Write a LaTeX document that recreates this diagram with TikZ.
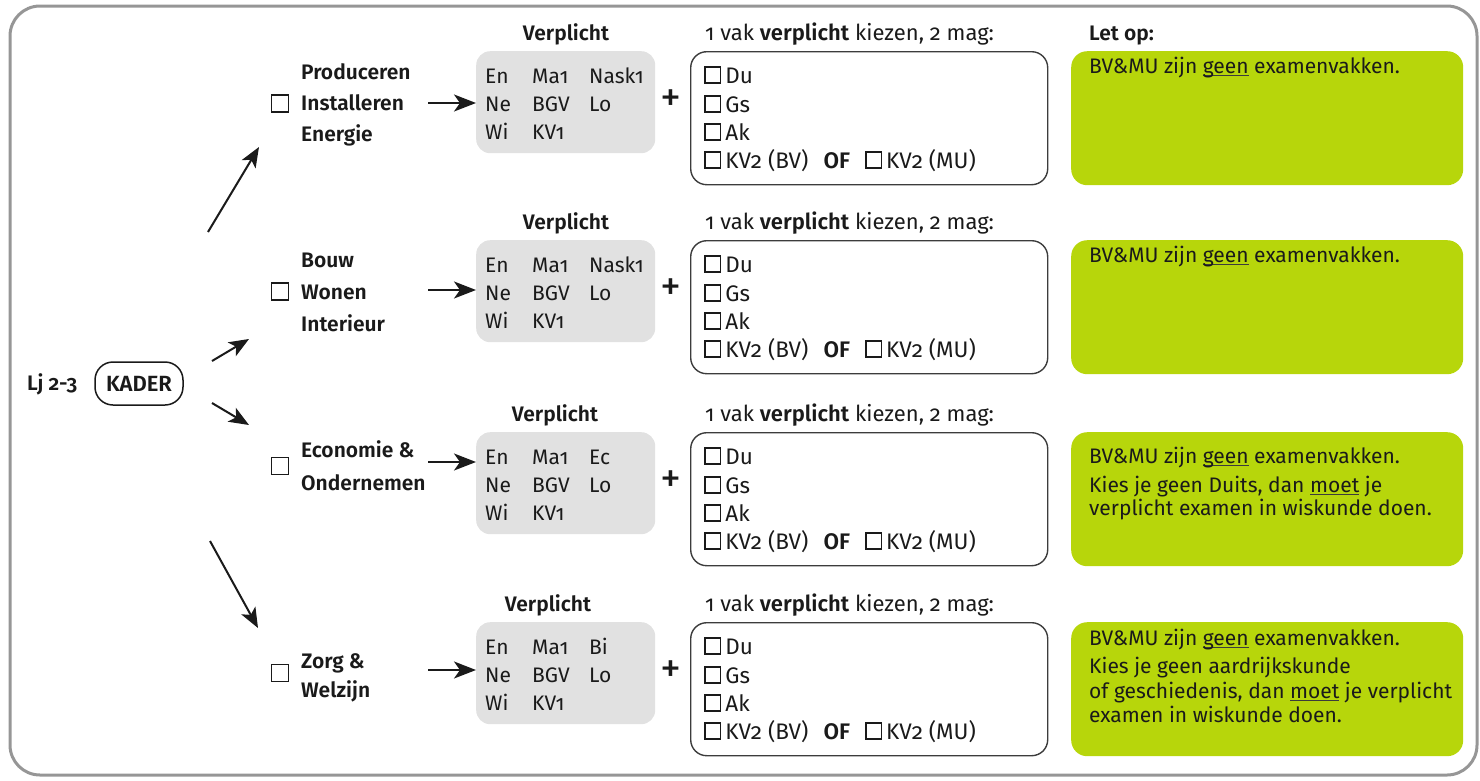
\documentclass[tikz,border=0pt]{standalone}
\usepackage{fontspec}
\setmainfont{Fira Sans}[Numbers=OldStyle,BoldFont={Fira Sans SemiBold}]
\usetikzlibrary{arrows.meta}
\definecolor{ink}{RGB}{26,26,26}
\definecolor{lime}{RGB}{183,214,11}
\definecolor{boxgray}{RGB}{225,225,225}
\definecolor{framegray}{RGB}{150,150,150}
\definecolor{linegray}{RGB}{60,60,60}
\newcommand\cbx{\raisebox{1pt}{\fboxsep=0pt\fboxrule=1.6pt\fbox{\rule{0pt}{14pt}\rule{14pt}{0pt}}}}
\newcommand\myul[1]{{\setbox0\hbox{#1}\rlap{\color{linegray}\rule[-2.5pt]{\wd0}{0.9pt}}\box0}}
\tikzset{
  txt/.style={inner sep=0pt, anchor=base west, text=ink, font=\fontsize{21}{25}\selectfont},
  wtxt/.style={txt, font=\fontsize{22.5}{26}\selectfont},
  htxt/.style={txt, font=\fontsize{22}{26}\selectfont},
  btxt/.style={txt, font=\fontsize{21}{25}\selectfont\bfseries},
  graybox/.style={fill=boxgray, rounded corners=14pt, anchor=north west, minimum width=179pt, minimum height=102pt, inner sep=0pt},
  whitebox/.style={draw=linegray, line width=1.4pt, rounded corners=16pt, anchor=north west, minimum width=357pt, minimum height=133pt, inner sep=0pt},
  greenbox/.style={fill=lime, rounded corners=16pt, anchor=north west, minimum width=392pt, minimum height=134pt, inner sep=0pt},
  tick/.style={draw=ink, line width=1.7pt, minimum size=17pt, inner sep=0pt},
  arr/.style={draw=ink, line width=2pt, -{Stealth[length=22pt,width=17pt,inset=6pt]}},
  sarr/.style={draw=ink, line width=2pt, -{Stealth[length=20pt,width=16pt,inset=5pt]}},
}
\begin{document}
\begin{tikzpicture}[x=1pt,y=-1pt]
\useasboundingbox (0,0) rectangle (1480,780);
\draw[framegray, line width=3pt, rounded corners=30pt] (10,6) rectangle (1477,775);

% left
\node[btxt] (lj) at (27,390) {Lj 2-3};
\node[draw=ink, line width=1.5pt, rounded corners=18pt, minimum width=88pt, minimum height=43pt, inner sep=0pt, font=\fontsize{22}{25}\selectfont\bfseries, text=ink] (k) at (139,383.5) {KADER};
\coordinate (d1a) at (208,232); \coordinate (d1b) at (259,147);
\coordinate (d2a) at (212,361); \coordinate (d2b) at (249,339);
\coordinate (d3a) at (212,403); \coordinate (d3b) at (249,425);
\coordinate (d4a) at (210,541); \coordinate (d4b) at (258,628);
\draw[sarr] (d1a) -- (d1b);
\draw[sarr] (d2a) -- (d2b);
\draw[sarr] (d3a) -- (d3b);
\draw[sarr] (d4a) -- (d4b);

% common per row
\foreach \i/\T/\V in {1/51/566, 2/240/566, 3/432/555, 4/622/548}{
  \node[graybox] (g\i) at (476,\T) {};
  \node[whitebox] (w\i) at (690,\T) {};
  \node[greenbox] (n\i) at (1071,\T) {};
  \node[btxt, anchor=base] (v\i) at (\V,\T-11) {Verplicht};
  \node[htxt] (h\i) at (705,\T-11) {1 vak \textbf{verplicht} kiezen, 2 mag:};
  \node[inner sep=0pt, text=ink, font=\fontsize{42}{42}\selectfont] (plus\i) at (671,\T+50) {+};
  \node[txt] (ga\i) at (485,\T+32) {En};
  \node[txt] (gb\i) at (485,\T+60) {Ne};
  \node[txt] (gc\i) at (485,\T+88) {Wi};
  \node[txt] (gd\i) at (532,\T+32) {Ma1};
  \node[txt] (ge\i) at (532,\T+60) {BGV};
  \node[txt] (gf\i) at (532,\T+88) {KV1};
  \node[txt] (gh\i) at (589,\T+60) {Lo};
  \node[wtxt] (wa\i) at (704,\T+32) {\cbx\kern4pt Du};
  \node[wtxt] (wb\i) at (704,\T+61) {\cbx\kern4pt Gs};
  \node[wtxt] (wc\i) at (704,\T+89) {\cbx\kern4pt Ak};
  \node[wtxt] (wd\i) at (704,\T+117) {\cbx\kern4pt KV2 (BV)\kern15pt\textbf{OF}\kern15pt\cbx\kern4pt KV2 (MU)};
}
\node[txt] (gg1) at (589,83) {Nask1};
\node[txt] (gg2) at (589,272) {Nask1};
\node[txt] (gg3) at (589,464) {Ec};
\node[txt] (gg4) at (589,654) {Bi};

\node[btxt] (letop) at (1089,40) {Let op:};

% programmes
\node[tick] (c1) at (280,103.5) {};
\node[btxt] (p1a) at (301,79) {Produceren};
\node[btxt] (p1b) at (301,110) {Installeren};
\node[btxt] (p1c) at (301,141) {Energie};
\coordinate (a1) at (428,103);
\draw[arr] (a1) -- (g1.west |- a1);

\node[tick] (c2) at (280,291.5) {};
\node[btxt] (p2a) at (301,267) {Bouw};
\node[btxt] (p2b) at (301,299) {Wonen};
\node[btxt] (p2c) at (301,331) {Interieur};
\coordinate (a2) at (428,290);
\draw[arr] (a2) -- (g2.west |- a2);

\node[tick] (c3) at (280,466) {};
\node[btxt] (p3a) at (301,457) {Economie \&};
\node[btxt] (p3b) at (301,490) {Ondernemen};
\coordinate (a3) at (428,462);
\draw[arr] (a3) -- (g3.west |- a3);

\node[tick] (c4) at (280,673) {};
\node[btxt] (p4a) at (301,668) {Zorg \&};
\node[btxt] (p4b) at (301,697) {Welzijn};
\coordinate (a4) at (428,670);
\draw[arr] (a4) -- (g4.west |- a4);

% notes
\node[txt] (t1) at (1089,73) {BV\&MU zijn \myul{geen} examenvakken.};
\node[txt] (t2) at (1089,262) {BV\&MU zijn \myul{geen} examenvakken.};
\node[txt] (t3a) at (1089,463) {BV\&MU zijn \myul{geen} examenvakken.};
\node[txt] (t3b) at (1089,492) {Kies je geen Duits, dan \myul{moet} je};
\node[txt] (t3c) at (1089,515) {verplicht examen in wiskunde doen.};
\node[txt] (t4a) at (1089,645) {BV\&MU zijn \myul{geen} examenvakken.};
\node[txt] (t4b) at (1089,673) {Kies je geen aardrijkskunde};
\node[txt] (t4c) at (1089,698) {of geschiedenis, dan \myul{moet} je verplicht};
\node[txt] (t4d) at (1089,722) {examen in wiskunde doen.};
\end{tikzpicture}
\end{document}
